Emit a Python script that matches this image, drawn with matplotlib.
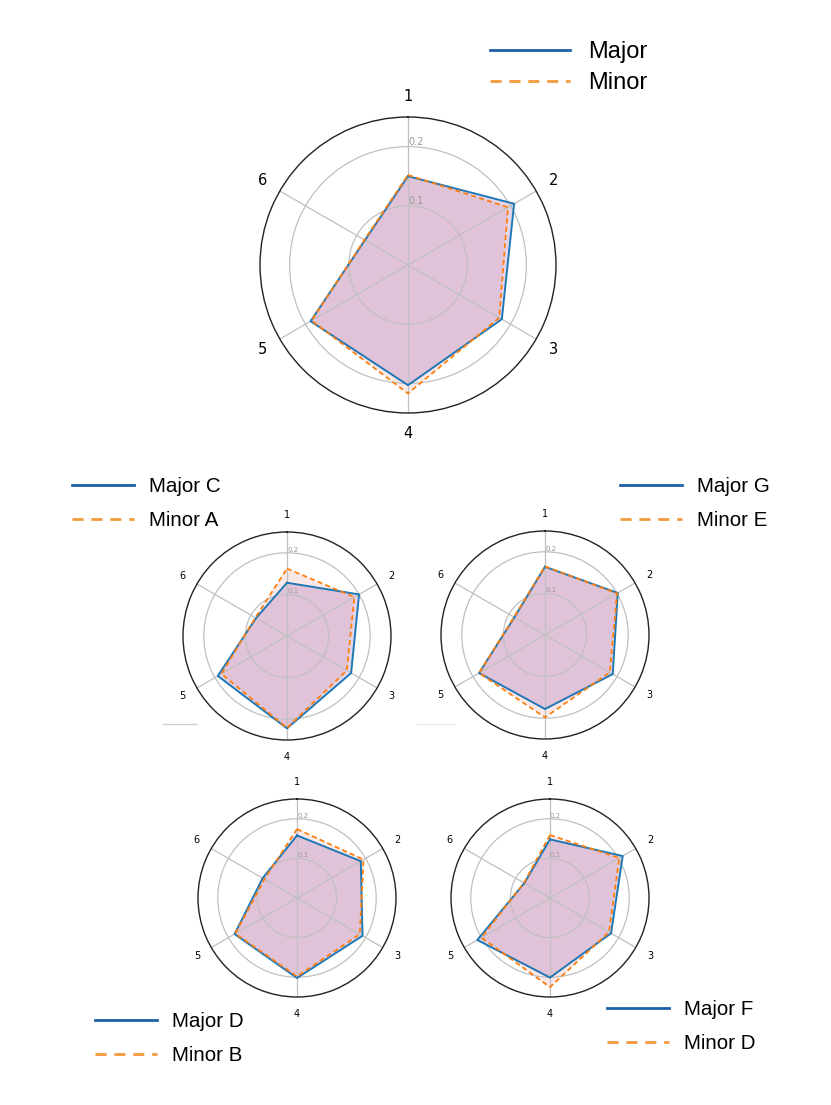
import numpy as np
import matplotlib
matplotlib.use('Agg')
import matplotlib.pyplot as plt
from matplotlib.lines import Line2D

# axis labels (clockwise from top)
categories = ['1', '2', '3', '4', '5', '6']

# main chart
main_major = [0.150, 0.207, 0.183, 0.203, 0.190, 0.084]
main_minor = [0.152, 0.195, 0.178, 0.217, 0.188, 0.085]

# small charts
c_major = [0.128, 0.200, 0.178, 0.222, 0.192, 0.086]
a_minor = [0.162, 0.187, 0.166, 0.221, 0.182, 0.088]

g_major = [0.164, 0.202, 0.188, 0.178, 0.183, 0.085]
e_minor = [0.165, 0.200, 0.180, 0.198, 0.183, 0.086]

d_major = [0.158, 0.186, 0.191, 0.202, 0.182, 0.100]
b_minor = [0.174, 0.194, 0.183, 0.198, 0.180, 0.095]

f_major = [0.148, 0.212, 0.178, 0.201, 0.212, 0.075]
d_minor = [0.159, 0.202, 0.172, 0.225, 0.200, 0.076]

W, H = 831, 1105
fig = plt.figure(figsize=(W / 100, H / 100), dpi=100)

angles = np.linspace(0, 2 * np.pi, len(categories), endpoint=False)
angles_closed = np.append(angles, angles[0])


def radar(cx, cy, r, major, minor, tick_size, rlabel_size, pad):
    ax = fig.add_axes([(cx - r) / W, 1 - (cy + r) / H, 2 * r / W, 2 * r / H],
                      projection='polar')
    ax.set_theta_offset(np.pi / 2)
    ax.set_theta_direction(-1)
    maj = np.append(major, major[0])
    mnr = np.append(minor, minor[0])
    ax.fill(angles_closed, maj, color='tab:purple', alpha=0.27, lw=0)
    ax.fill(angles_closed, mnr, color='tab:red', alpha=0.1, lw=0)
    ax.plot(angles_closed, maj, color='#1f77b4', lw=1.4)
    ax.plot(angles_closed, mnr, color='#ff7f0e', lw=1.3, ls=(0, (2.8, 1.8)))
    ax.set_xticks(angles)
    ax.set_xticklabels(categories, fontsize=tick_size)
    ax.tick_params(axis='x', pad=pad)
    ax.set_ylim(0, 0.25)
    ax.set_yticks([0.1, 0.2])
    ax.set_yticklabels(['0.1', '0.2'], fontsize=rlabel_size, color='#999999')
    ax.set_rlabel_position(0)
    ax.grid(True, color='#c0c0c0', lw=0.9)
    ax.spines['polar'].set_color('#222222')
    ax.spines['polar'].set_linewidth(1.0)
    return ax


radar(408, 265, 148, main_major, main_minor, 10.5, 7, 4)
radar(287, 636, 104, c_major, a_minor, 7, 5, 1.5)
radar(545, 635, 104, g_major, e_minor, 7, 5, 1.5)
radar(297, 898, 99, d_major, b_minor, 7, 5, 1.5)
radar(550, 898, 99, f_major, d_minor, 7, 5, 1.5)

blue_leg = '#1f5fa8'
orange_leg = '#f39a3c'


def legend(x, y, labels, size, hlen, spacing):
    handles = [Line2D([], [], color=blue_leg, lw=2),
               Line2D([], [], color=orange_leg, lw=2, ls=(0, (4, 2.8)))]
    fig.legend(handles, labels, loc='upper left',
               bbox_to_anchor=(x / W, 1 - y / H), frameon=False,
               prop={'family': 'Liberation Sans', 'size': size},
               handlelength=hlen, handletextpad=0.75, labelspacing=spacing,
               borderpad=0, borderaxespad=0)


legend(490, 41, ['Major', 'Minor'], 17, 3.4, 0.38)
legend(72, 477, ['Major C', 'Minor A'], 14.8, 3.0, 0.72)
legend(620, 477, ['Major G', 'Minor E'], 14.8, 3.0, 0.72)
legend(95, 1012, ['Major D', 'Minor B'], 14.8, 3.0, 0.72)
legend(607, 1000, ['Major F', 'Minor D'], 14.8, 3.0, 0.72)

# faint leftover strokes under the upper small charts
fig.add_artist(Line2D([163 / W, 197 / W], [1 - 724 / H, 1 - 724 / H],
                      color='#cfcfcf', lw=1))
fig.add_artist(Line2D([417 / W, 455 / W], [1 - 724 / H, 1 - 724 / H],
                      color='#ebebeb', lw=1))

fig.savefig('out.png', dpi=100)
